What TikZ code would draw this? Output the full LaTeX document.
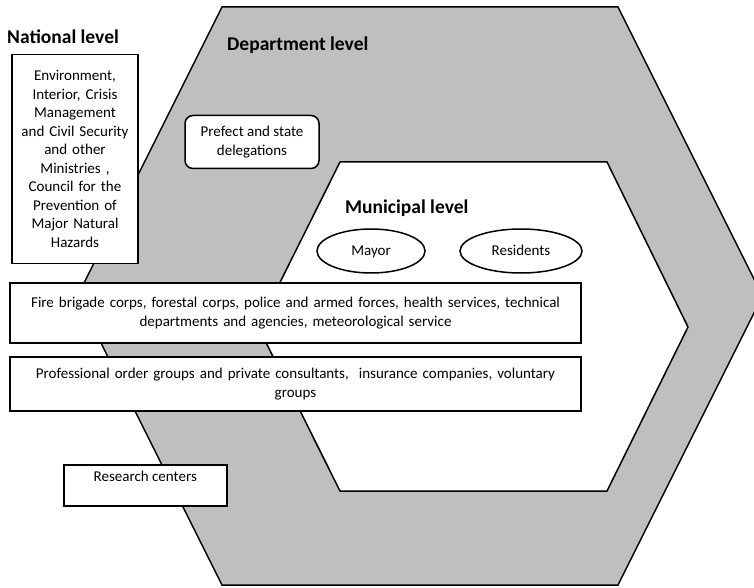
\documentclass[tikz,border=0pt]{standalone}
\usepackage{fontspec}
\setmainfont{Carlito}
\definecolor{hexgray}{RGB}{191,191,191}
\tikzset{
  title/.style={font=\fontsize{19.5}{23}\selectfont\bfseries, inner sep=0pt, anchor=base west},
  txt/.style={font=\fontsize{15}{18.5}\selectfont},
  box/.style={txt, draw=black, line width=1.5pt, fill=white, align=center, inner sep=2pt},
  rbox/.style={box, rounded corners=8pt},
  oval/.style={txt, draw=black, line width=1.5pt, fill=white, ellipse, inner sep=0pt, text height=11pt, text depth=3pt},
  hexline/.style={draw=black, line width=1.5pt, line join=miter}
}
\usetikzlibrary{shapes.geometric}
\begin{document}
\begin{tikzpicture}[x=1pt,y=-1pt]
\useasboundingbox (0,0) rectangle (754,588);
\begin{scope}
\clip (0,0) rectangle (754,588);
% department hexagon
\draw[hexline, fill=hexgray] (222,7) -- (618,7) -- (762.5,296) -- (618,585) -- (222,585) -- (77.5,296) -- cycle;
% municipal hexagon
\draw[hexline, fill=white] (340,162) -- (607,162) -- (688,327) -- (607,491) -- (340,491) -- (258,326.5) -- cycle;
\end{scope}

\node[title] (nat) at (7,44) {National level};
\node[title] (dep) at (227,51) {Department level};
\node[title] (mun) at (345,213) {Municipal level};

\node[box, minimum width=126pt, minimum height=209pt, text width=120pt] (min) at (75,159)
  {Environment,\\Interior, Crisis\\Management\\and Civil Security\\and other\\Ministries ,\\Council for the\\Prevention of\\Major Natural\\Hazards};

\node[rbox, minimum width=134pt, minimum height=53pt] (pref) at (252,142)
  {Prefect and state\\delegations};

\node[oval, minimum width=108pt, minimum height=44pt] (mayor) at (371,251) {Mayor};
\node[oval, minimum width=122pt, minimum height=44pt] (res) at (521,251) {Residents};

\node[box, minimum width=571pt, minimum height=60pt, text width=560pt] (fire) at (295.5,313)
  {Fire brigade corps, forestal corps, police and armed forces, health services, technical\\departments and agencies, meteorological service};

\node[box, minimum width=571pt, minimum height=54pt, text width=560pt] (prof) at (295.5,384)
  {Professional order groups and private consultants,\ \ insurance companies, voluntary\\groups};

\node[box, minimum width=163pt, minimum height=41pt, anchor=north west, inner sep=0pt] (resbox) at (63,464) {};
\node[txt, anchor=north, inner sep=0pt] (reslabel) at ([yshift=-7pt]resbox.north) {Research centers};
\end{tikzpicture}
\end{document}
